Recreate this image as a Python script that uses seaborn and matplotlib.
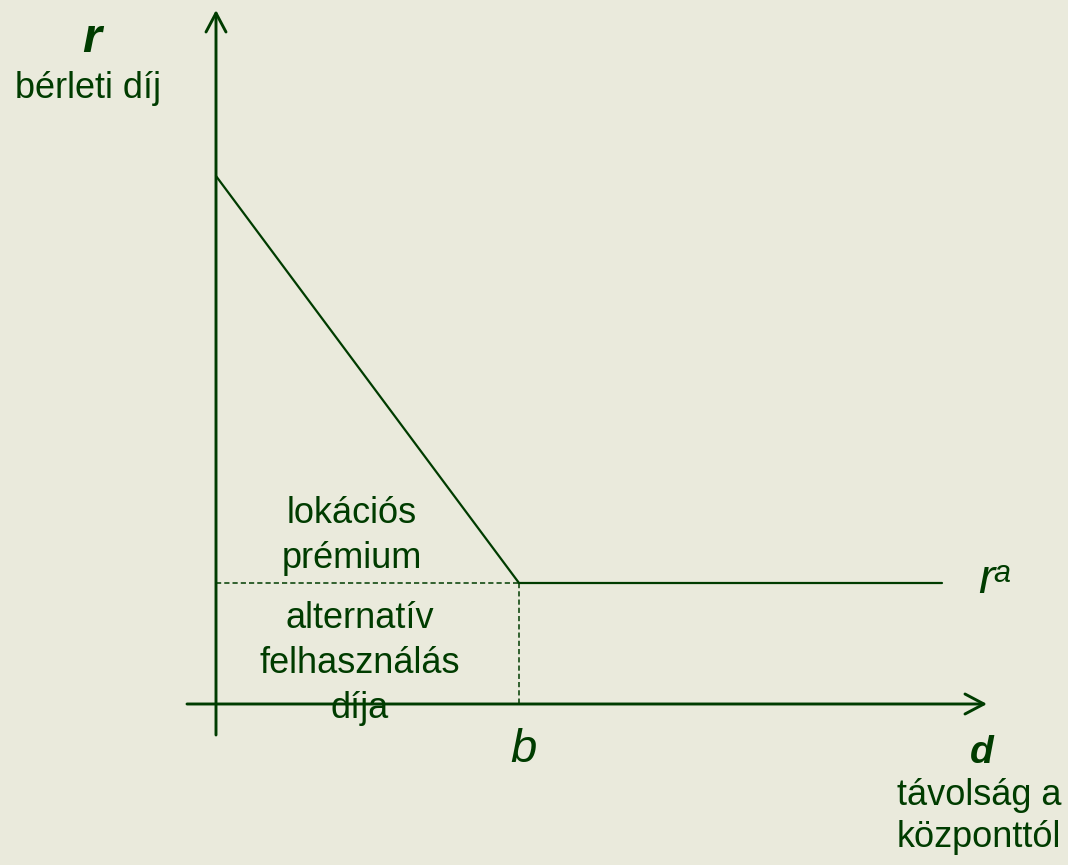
import numpy as np
import pandas as pd
import matplotlib
matplotlib.use('Agg')
import matplotlib.pyplot as plt
import seaborn as sns

# bid-rent curve: distance from centre vs rent
d_pts = [0, 3.03, 7.26]
r_pts = [5.28, 1.21, 1.21]
b = d_pts[1]
r_a = r_pts[1]

# axis extents (data units)
x_axis = [-0.29, 7.71]
y_axis = [-0.31, 6.94]

bg = '#EAEADC'
green = '#003C00'

sns.set_theme(style='white', rc={'axes.facecolor': bg, 'figure.facecolor': bg})
plt.rcParams['font.family'] = ['Liberation Sans', 'DejaVu Sans']

fig = plt.figure(figsize=(10.68, 8.65), dpi=100)
ax = fig.add_axes([0, 0, 1, 1])

curve = pd.DataFrame({'d': d_pts, 'r': r_pts})
sns.lineplot(data=curve, x='d', y='r', sort=False, estimator=None,
             color=green, lw=1.6, ax=ax)

# dashed guides at b and r^a
sns.lineplot(x=[0, b], y=[r_a, r_a], sort=False, estimator=None,
             color=green, lw=1.1, ax=ax, dashes=False, linestyle=(0, (3.4, 2.0)))
ax.plot([b, b], [r_a, 0], color=green, lw=1.1, linestyle=(0, (3.4, 2.0)))

# axes with open arrow heads
arrow = dict(arrowstyle='->,head_length=0.68,head_width=0.36', lw=2.1,
             color=green, shrinkA=0, shrinkB=0, mutation_scale=20)
ax.annotate('', xy=(x_axis[1], 0), xytext=(x_axis[0], 0), arrowprops=arrow)
ax.annotate('', xy=(0, y_axis[1]), xytext=(0, y_axis[0]), arrowprops=arrow)

ax.set_xlim(-2.16, 8.52)
ax.set_ylim(-1.61, 7.04)
ax.axis('off')

# labels
ax.text(-1.24, 6.52, 'r', fontsize=35, fontweight='bold', fontstyle='italic',
        color=green, ha='center', va='baseline')
ax.text(-1.28, 6.06, 'bérleti díj', fontsize=26, color=green, ha='center', va='baseline')

ax.text(1.36, 1.81, 'lokációs', fontsize=26, color=green, ha='center', va='baseline')
ax.text(1.36, 1.36, 'prémium', fontsize=26, color=green, ha='center', va='baseline')
ax.text(1.44, 0.76, 'alternatív', fontsize=26, color=green, ha='center', va='baseline')
ax.text(1.44, 0.31, 'felhasználás', fontsize=26, color=green, ha='center', va='baseline')
ax.text(1.44, -0.14, 'díja', fontsize=26, color=green, ha='center', va='baseline')

ax.text(3.07, -0.58, 'b', fontsize=34, fontstyle='italic', color=green,
        ha='center', va='baseline')

ax.text(7.62, 1.11, 'r', fontsize=35, fontstyle='italic', color=green,
        ha='left', va='baseline')
ax.text(7.77, 1.22, 'a', fontsize=22, fontstyle='italic', color=green,
        ha='left', va='baseline')

ax.text(7.66, -0.59, 'd', fontsize=28, fontweight='bold', fontstyle='italic',
        color=green, ha='center', va='baseline')
ax.text(7.63, -1.01, 'távolság a', fontsize=26, color=green, ha='center', va='baseline')
ax.text(7.63, -1.43, 'központtól', fontsize=26, color=green, ha='center', va='baseline')

fig.savefig('out.png', dpi=100, facecolor=bg)
